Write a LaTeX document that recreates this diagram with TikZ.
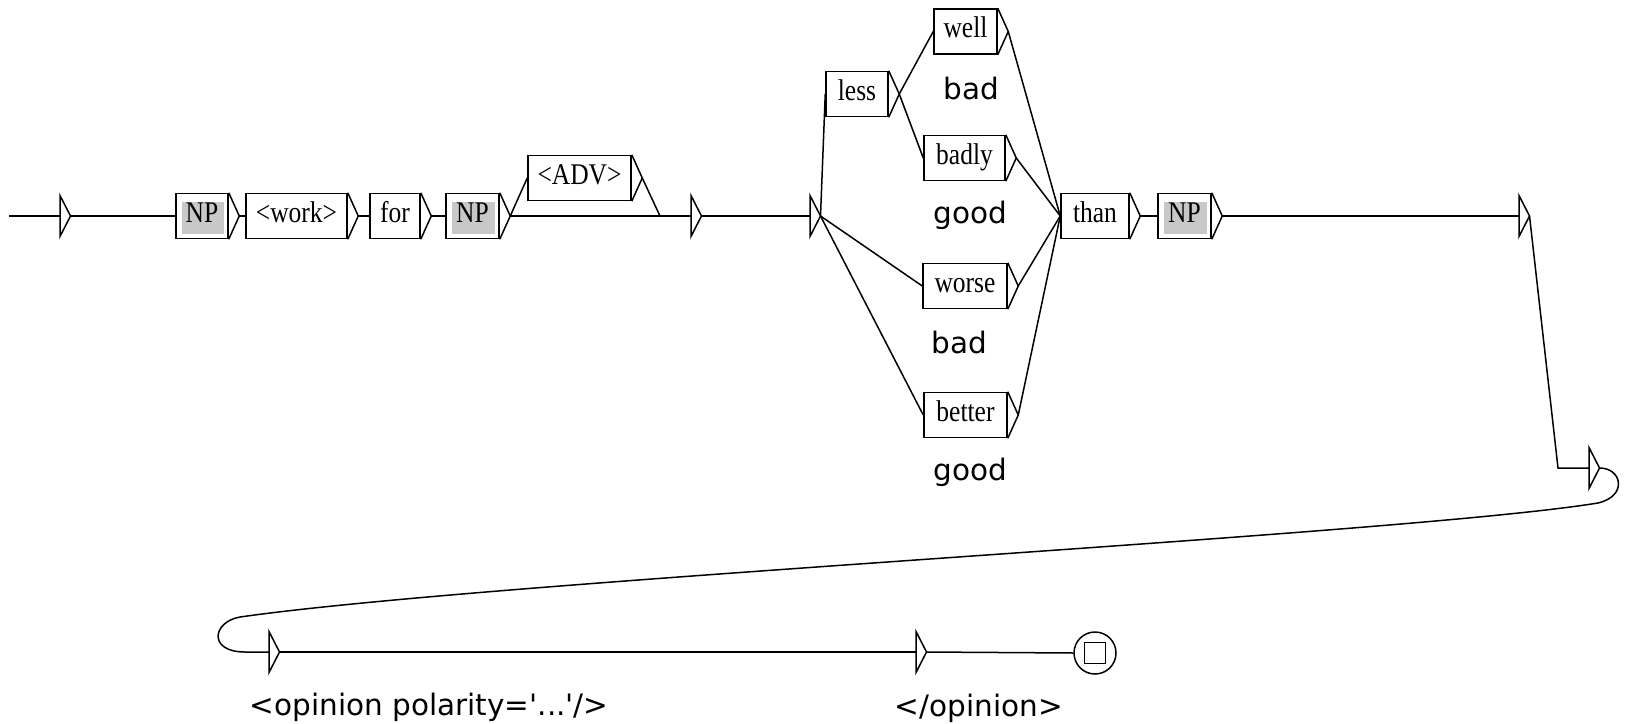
\documentclass[tikz,border=0pt]{standalone}
\usepackage{fontspec}
\setmainfont{Liberation Serif}
\newfontfamily\boxfont[FakeStretch=0.85]{Liberation Serif}
\newfontfamily\lblfont[Ligatures=TeXOff]{DejaVu Sans}
\definecolor{npgray}{RGB}{200,200,200}
\begin{document}
\begin{tikzpicture}[x=1pt,y=-1pt,line width=1.5pt,
  ubox/.style={draw,rectangle,minimum height=45,inner sep=0,
    text height=18pt,text depth=6pt,font=\boxfont\fontsize{30}{34}\selectfont},
  npbox/.style={ubox,path picture={\fill[npgray]
    ([xshift=6pt,yshift=-8pt]path picture bounding box.north west) rectangle
    ([xshift=-4pt,yshift=5pt]path picture bounding box.south east);}},
  lbl/.style={anchor=base west,inner sep=0,font=\lblfont\fontsize{29.5}{34}\selectfont}]
\useasboundingbox (0,0) rectangle (1627,723);

% boxes
\node[npbox,minimum width=52]  (np1)   at (202,216)   {NP};
\node[ubox, minimum width=101] (work)  at (296.5,216) {<work>};
\node[ubox, minimum width=50]  (for)   at (395,216)   {for};
\node[npbox,minimum width=53]  (np2)   at (472.5,216) {NP};
\node[ubox, minimum width=103] (adv)   at (579.5,178) {<ADV>};
\node[ubox, minimum width=62]  (less)  at (857,94)    {less};
\node[ubox, minimum width=63]  (well)  at (965.5,31.5){well};
\node[ubox, minimum width=81]  (badly) at (964.5,158) {badly};
\node[ubox, minimum width=84]  (worse) at (965,286)   {worse};
\node[ubox, minimum width=83]  (better)at (965.5,415) {better};
\node[ubox, minimum width=68]  (than)  at (1095,216)  {than};
\node[npbox,minimum width=53]  (np3)   at (1184.5,216){NP};

\foreach \b in {np1,work,for,np2,adv,less,well,badly,worse,better,than,np3}{
  \coordinate (\b e) at ([xshift=10.5pt]\b.east);
  \draw (\b.north east) -- (\b e) -- (\b.south east);
}

% states
\coordinate (start) at (9,216);
\coordinate (t1) at (60,216);
\coordinate (t2) at (691,216);
\coordinate (t3) at (810,216);
\coordinate (t4) at (1519,216);
\coordinate (t5) at (1589,468);
\coordinate (t6) at (269,652);
\coordinate (t7) at (916,652);
\foreach \s in {t1,t2,t3,t4,t5,t6,t7}{
  \coordinate (\s e) at ([xshift=10.5pt]\s);
  \draw ([yshift=20.5pt]\s) -- (\s e) -- ([yshift=-20.5pt]\s) -- cycle;
}
\node[circle,draw,minimum size=42,inner sep=0] (fin) at (1095,653) {};
\draw ([xshift=-10.5pt,yshift=-10.5pt]fin.center) rectangle ([xshift=10.5pt,yshift=10.5pt]fin.center);

\coordinate (advj) at (660,216);
\coordinate (bend) at (1558,468);

% connectors
\draw (start) -- (t1);
\draw (t1e) -- (np1.west);
\draw (np1e) -- (work.west);
\draw (worke) -- (for.west);
\draw (fore) -- (np2.west);
\draw (np2e) -- (adv.west);
\draw (np2e) -- (t2);
\draw (adve) -- (advj);
\draw (t2e) -- (t3);
\draw (t3e) -- (less.west);
\draw (t3e) -- (worse.west);
\draw (t3e) -- (better.west);
\draw (lesse) -- (well.west);
\draw (lesse) -- (badly.west);
\draw (welle) -- (than.west);
\draw (badlye) -- (than.west);
\draw (worsee) -- (than.west);
\draw (bettere) -- (than.west);
\draw (thane) -- (np3.west);
\draw (np3e) -- (t4);
\draw (t4e) -- (bend) -- (t5);
\draw (t5e) .. controls (1622,468) and (1628,496) .. (1598,503)
  .. controls (1400,535) and (500,580) .. (240,617)
  .. controls (212,622) and (208,652) .. (245,652) -- (t6);
\draw (t6e) -- (t7);
\draw (t7e) -- (fin.west);

% outputs
\node[lbl] (o1) at (943,99)  {bad};
\node[lbl] (o2) at (933,223) {good};
\node[lbl] (o3) at (931,353) {bad};
\node[lbl] (o4) at (933,480) {good};
\node[lbl] (o5) at (249,715) {<opinion polarity='...'/>};
\node[lbl] (o6) at (894,716) {</opinion>};
\end{tikzpicture}
\end{document}
